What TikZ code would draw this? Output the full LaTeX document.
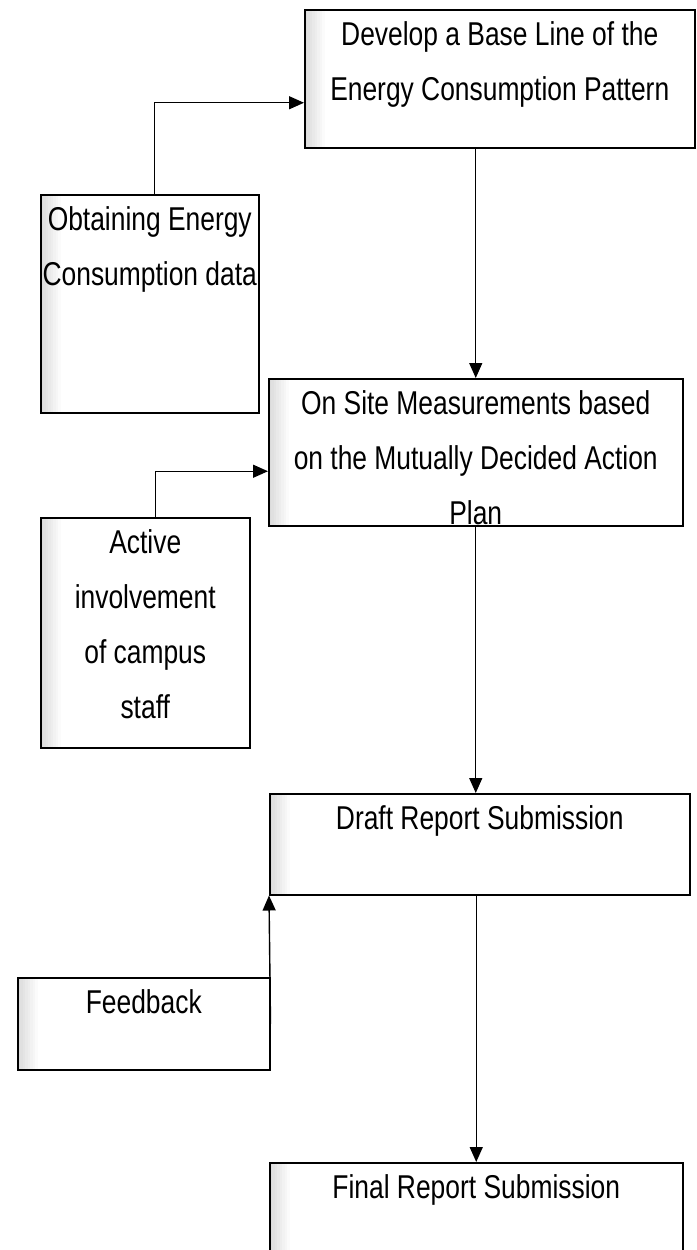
\documentclass[tikz,border=0pt]{standalone}
\usepackage{fontspec}
\setmainfont{Liberation Sans}[FakeStretch=0.8]
\usetikzlibrary{arrows.meta}

\begin{document}
\begin{tikzpicture}[x=1pt, y=-1pt,
    stepbox/.style ={draw, line width=1.5pt, anchor=north west, inner sep=0pt,
      align=flush center, text height=36pt,
      font=\fontsize{33pt}{55pt}\selectfont,
      path picture={\foreach \k in {0,...,7}{
          \pgfmathtruncatemacro\pct{28-3.5*\k}
          \fill[gray!\pct] ([xshift={2.5*\k*1pt}]path picture bounding box.north west)
            rectangle ([xshift={2.5*\k*1pt+2.6pt}]path picture bounding box.south west);}}},
    flow/.style ={line width=1.4pt, -{Triangle[length=15pt, width=13pt]}}]
   \useasboundingbox (0,0) rectangle (696,1250);

   \node[stepbox, text width=390pt, text depth=102pt] (base) at (304,9)
      {Develop a Base Line of the\\Energy Consumption Pattern};
   \node[stepbox, text width=218pt, text depth=182pt] (obtain) at (40,194)
      {Obtaining Energy\\Consumption data};
   \node[stepbox, text width=414pt, text depth=111pt] (onsite) at (268,378)
      {On Site Measurements based\\on the Mutually Decided Action\\Plan};
   \node[stepbox, text width=209pt, text depth=194pt] (active) at (40,517)
      {Active\\involvement\\of campus\\staff};
   \node[stepbox, text width=420pt, text depth=65pt] (draft) at (269,793)
      {Draft Report Submission};
   \node[stepbox, text width=252pt, text depth=56pt] (feedback) at (17,977)
      {Feedback};
   \node[stepbox, text width=413pt, text depth=114pt] (final) at (269,1162)
      {Final Report Submission};

   \draw[flow] ([xshift=5pt]obtain.north) |- ([yshift=-24pt]base.west);
   \draw[flow] (base.south -| onsite.north) -- (onsite.north);
   \draw[flow] ([xshift=10pt]active.north) |- ([yshift=-19pt]onsite.west);
   \draw[flow] (onsite.south) -- (onsite.south |- draft.north);
   \draw[flow] (feedback.east) -- (draft.south west);
   \draw[flow] (draft.south -| final.north) -- (final.north);
 \end{tikzpicture}
\end{document}
